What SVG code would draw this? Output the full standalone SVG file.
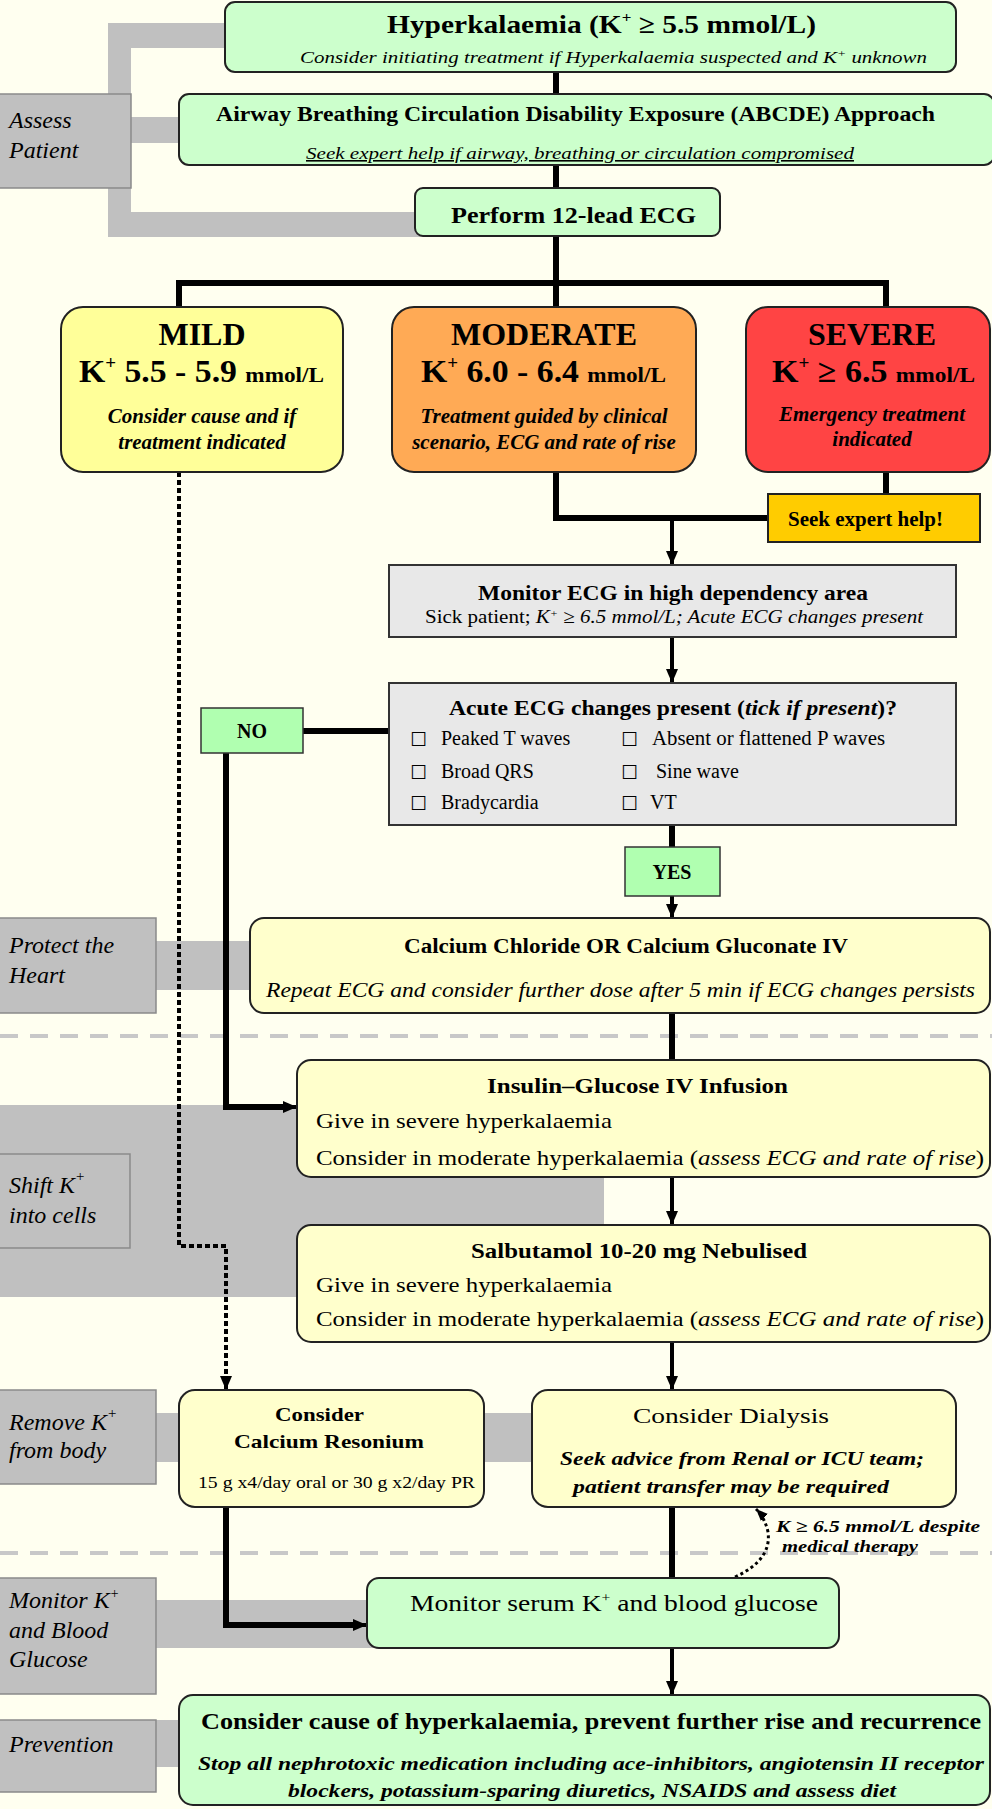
<svg xmlns="http://www.w3.org/2000/svg" width="992" height="1809" viewBox="0 0 992 1809">
<defs>
<style>
text{font-family:"Liberation Serif","Times New Roman",serif;fill:#000}
.b{font-weight:bold}
.i{font-style:italic}
.bi{font-weight:bold;font-style:italic}
.cb{font-family:"DejaVu Sans",sans-serif;font-size:19px}
.band{fill:#C0C0C0}
.lbl{fill:#C0C0C0;stroke:#8a8a8a;stroke-width:1.5}
.green{fill:#CCFFCC;stroke:#222;stroke-width:2}
.yel{fill:#FFFFCC;stroke:#222;stroke-width:2}
.grey{fill:#E8E8E8;stroke:#333;stroke-width:2}
.yn{fill:#B0FFB0;stroke:#333;stroke-width:1.5}
.ln{fill:none;stroke:#000;stroke-width:6}
.ar{fill:none;stroke:#000;stroke-width:4;marker-end:url(#ah)}
.dot{fill:none;stroke:#000;stroke-width:4;stroke-dasharray:5 3}
.sep{fill:none;stroke:#C8C8C8;stroke-width:4;stroke-dasharray:18 12}
.lt{font-style:italic;font-size:24px}
.big{font-size:32px;font-weight:bold}
</style>
<marker id="ah" viewBox="0 0 14 12" refX="14" refY="6" markerWidth="14" markerHeight="12" markerUnits="userSpaceOnUse" orient="auto"><path d="M0 0 L14 6 L0 12 z" fill="#000"/></marker>
<marker id="ahs" viewBox="0 0 12 10" refX="12" refY="5" markerWidth="12" markerHeight="10" markerUnits="userSpaceOnUse" orient="auto"><path d="M0 0 L12 5 L0 10 z" fill="#000"/></marker>
</defs>
<rect x="0" y="0" width="992" height="1809" fill="#FFFFF0"/>

<g id="bands">
<rect class="band" x="108" y="23" width="130" height="25"/>
<rect class="band" x="108" y="23" width="23" height="75"/>
<rect class="band" x="128" y="117" width="60" height="26"/>
<rect class="band" x="108" y="185" width="23" height="52"/>
<rect class="band" x="108" y="212" width="320" height="25"/>
<rect class="band" x="150" y="941" width="110" height="49"/>
<path class="band" d="M0 1105 H604 V1225 H310 V1297 H0 Z"/>
<rect class="band" x="150" y="1413" width="40" height="49"/>
<rect class="band" x="480" y="1413" width="60" height="49"/>
<rect class="band" x="150" y="1600" width="225" height="48"/>
<rect class="band" x="150" y="1720" width="40" height="47"/>
</g>

<g id="separators">
<path class="sep" d="M0 1036 H992"/>
<path class="sep" d="M0 1553 H992"/>
</g>

<g id="connectors">
<path class="ln" d="M556 72 V307"/>
<path class="ln" d="M179 307 V283 H886 V307" stroke-width="7"/>
<path class="ln" d="M556 472 V518 H770"/>
<path class="ln" d="M886 472 V494"/>
<path class="ar" d="M672 518 V565"/>
<path class="ar" d="M672 637 V683"/>
<path class="ln" d="M303 731 H389"/>
<path class="ln" d="M226 753 V1107 H284" stroke-width="5"/>
<path class="ar" d="M280 1107 H297"/>
<path class="ln" d="M672 825 V847" stroke-width="4"/>
<path class="ar" d="M672 896 V918"/>
<path class="ln" d="M672 1013 V1060" stroke-width="4"/>
<path class="ar" d="M672 1177 V1225"/>
<path class="ar" d="M672 1342 V1390"/>
<path class="dot" d="M179 472 V1246 H226 V1378"/>
<path class="ar" d="M226 1376 V1390"/>
<path class="ln" d="M226 1507 V1625 H355" stroke-width="5"/>
<path class="ar" d="M350 1625 H367"/>
<path class="ln" d="M672 1507 V1578" stroke-width="4"/>
<path class="ar" d="M672 1648 V1695"/>
<path d="M735 1577 Q 772 1560 768 1532 Q 765 1518 756 1509" fill="none" stroke="#000" stroke-width="3" stroke-dasharray="3 3" marker-end="url(#ahs)"/>
</g>

<g id="labels">
<rect class="lbl" x="-2" y="94" width="133" height="94"/>
<text class="lt" x="9" y="128">Assess</text>
<text class="lt" x="9" y="158">Patient</text>
<rect class="lbl" x="-2" y="918" width="158" height="95"/>
<text class="lt" x="9" y="953">Protect the</text>
<text class="lt" x="9" y="983">Heart</text>
<rect class="lbl" x="-2" y="1154" width="132" height="94"/>
<text class="lt" x="9" y="1193">Shift K<tspan dy="-12" font-size="15">+</tspan></text>
<text class="lt" x="9" y="1223">into cells</text>
<rect class="lbl" x="-2" y="1390" width="158" height="94"/>
<text class="lt" x="9" y="1430">Remove K<tspan dy="-12" font-size="15">+</tspan></text>
<text class="lt" x="9" y="1458">from body</text>
<rect class="lbl" x="-2" y="1578" width="158" height="116"/>
<text class="lt" x="9" y="1608">Monitor K<tspan dy="-10" font-size="14">+</tspan></text>
<text class="lt" x="9" y="1638">and Blood</text>
<text class="lt" x="9" y="1667">Glucose</text>
<rect class="lbl" x="-2" y="1720" width="158" height="72"/>
<text class="lt" x="9" y="1752">Prevention</text>
</g>

<g id="n-top">
<rect class="green" x="225" y="2" width="731" height="70" rx="10"/>
<text class="b" x="387" y="33" font-size="26" textLength="429" lengthAdjust="spacingAndGlyphs">Hyperkalaemia  (K<tspan dy="-11" font-size="15">+</tspan><tspan dy="11"> ≥ 5.5 mmol/L)</tspan></text>
<text class="i" x="300" y="63" font-size="17" textLength="627" lengthAdjust="spacingAndGlyphs">Consider initiating treatment if Hyperkalaemia suspected and K<tspan dy="-6" font-size="11">+</tspan><tspan dy="6"> unknown</tspan></text>
</g>

<g id="n-abcde">
<rect class="green" x="179" y="94" width="815" height="71" rx="10"/>
<text class="b" x="216" y="121" font-size="20" textLength="719" lengthAdjust="spacingAndGlyphs">Airway Breathing Circulation Disability Exposure (ABCDE) Approach</text>
<text class="i" x="306" y="159" font-size="16" textLength="548" lengthAdjust="spacingAndGlyphs" text-decoration="underline">Seek expert help if airway, breathing or circulation compromised</text>
</g>

<g id="n-ecg">
<rect class="green" x="415" y="188" width="305" height="48" rx="8"/>
<text class="b" x="451" y="223" font-size="24" textLength="245" lengthAdjust="spacingAndGlyphs">Perform 12-lead ECG</text>
</g>

<g id="n-mild">
<rect x="61" y="307" width="282" height="165" rx="22" fill="#FFFF99" stroke="#222" stroke-width="2"/>
<text class="big" x="202" y="345" text-anchor="middle">MILD</text>
<text class="big" x="79" y="382" textLength="245" lengthAdjust="spacingAndGlyphs">K<tspan dy="-13" font-size="18">+</tspan><tspan dy="13"> 5.5 - 5.9 </tspan><tspan font-size="22">mmol/L</tspan></text>
<text class="bi" x="202" y="423" font-size="21" text-anchor="middle">Consider cause and if</text>
<text class="bi" x="202" y="449" font-size="21" text-anchor="middle">treatment indicated</text>
</g>

<g id="n-moderate">
<rect x="392" y="307" width="304" height="165" rx="22" fill="#FFAA55" stroke="#222" stroke-width="2"/>
<text class="big" x="544" y="345" text-anchor="middle">MODERATE</text>
<text class="big" x="421" y="382" textLength="245" lengthAdjust="spacingAndGlyphs">K<tspan dy="-13" font-size="18">+</tspan><tspan dy="13"> 6.0 - 6.4 </tspan><tspan font-size="22">mmol/L</tspan></text>
<text class="bi" x="544" y="423" font-size="21" text-anchor="middle">Treatment guided by clinical</text>
<text class="bi" x="544" y="449" font-size="21" text-anchor="middle">scenario, ECG and rate of rise</text>
</g>

<g id="n-severe">
<rect x="746" y="307" width="244" height="165" rx="22" fill="#FF4444" stroke="#222" stroke-width="2"/>
<text class="big" x="872" y="345" text-anchor="middle">SEVERE</text>
<text class="big" x="772" y="382" textLength="203" lengthAdjust="spacingAndGlyphs">K<tspan dy="-13" font-size="18">+</tspan><tspan dy="13"> ≥ 6.5 </tspan><tspan font-size="22">mmol/L</tspan></text>
<text class="bi" x="872" y="421" font-size="21" text-anchor="middle">Emergency treatment</text>
<text class="bi" x="872" y="446" font-size="21" text-anchor="middle">indicated</text>
</g>

<g id="n-seek">
<rect x="768" y="494" width="212" height="48" fill="#FFCC00" stroke="#222" stroke-width="2"/>
<text class="b" x="788" y="526" font-size="20" textLength="155" lengthAdjust="spacingAndGlyphs">Seek expert help!</text>
</g>

<g id="n-monitor-ecg">
<rect class="grey" x="389" y="565" width="567" height="72"/>
<text class="b" x="478" y="600" font-size="21" textLength="390" lengthAdjust="spacingAndGlyphs">Monitor ECG in high dependency area</text>
<text x="425" y="623" font-size="19" textLength="498" lengthAdjust="spacingAndGlyphs">Sick patient; <tspan class="i">K<tspan dy="-6" font-size="11">+</tspan><tspan dy="6"> ≥ 6.5 mmol/L; Acute ECG changes present</tspan></tspan></text>
</g>

<g id="n-acute">
<rect class="grey" x="389" y="683" width="567" height="142"/>
<text class="b" x="449" y="715" font-size="20" textLength="448" lengthAdjust="spacingAndGlyphs">Acute ECG changes present (<tspan class="bi">tick if present</tspan>)?</text>
<text class="cb" x="410" y="746">☐</text>
<text x="441" y="745" font-size="20">Peaked T waves</text>
<text class="cb" x="410" y="779">☐</text>
<text x="441" y="778" font-size="20">Broad QRS</text>
<text class="cb" x="410" y="810">☐</text>
<text x="441" y="809" font-size="20">Bradycardia</text>
<text class="cb" x="621" y="746">☐</text>
<text x="652" y="745" font-size="20" textLength="233" lengthAdjust="spacingAndGlyphs">Absent or flattened P waves</text>
<text class="cb" x="621" y="779">☐</text>
<text x="656" y="778" font-size="20">Sine wave</text>
<text class="cb" x="621" y="810">☐</text>
<text x="650" y="809" font-size="20">VT</text>
</g>

<g id="n-no">
<rect class="yn" x="201" y="708" width="102" height="45"/>
<text class="b" x="252" y="738" font-size="20" text-anchor="middle">NO</text>
</g>

<g id="n-yes">
<rect class="yn" x="625" y="847" width="95" height="49"/>
<text class="b" x="672" y="879" font-size="20" text-anchor="middle">YES</text>
</g>

<g id="n-calcium">
<rect class="yel" x="250" y="918" width="740" height="95" rx="14"/>
<text class="b" x="404" y="953" font-size="20" textLength="444" lengthAdjust="spacingAndGlyphs">Calcium Chloride OR Calcium Gluconate IV</text>
<text class="i" x="266" y="997" font-size="20" textLength="709" lengthAdjust="spacingAndGlyphs">Repeat ECG and consider further dose after 5 min if ECG changes persists</text>
</g>

<g id="n-insulin">
<rect class="yel" x="297" y="1060" width="693" height="117" rx="14"/>
<text x="487" y="1093" font-size="22" font-weight="bold" textLength="301" lengthAdjust="spacingAndGlyphs">Insulin–Glucose IV Infusion</text>
<text x="316" y="1128" font-size="22" textLength="296" lengthAdjust="spacingAndGlyphs">Give in severe hyperkalaemia</text>
<text x="316" y="1165" font-size="22" textLength="668" lengthAdjust="spacingAndGlyphs">Consider in moderate hyperkalaemia (<tspan class="i">assess ECG and rate of rise</tspan>)</text>
</g>

<g id="n-salbutamol">
<rect class="yel" x="297" y="1225" width="693" height="117" rx="14"/>
<text x="471" y="1258" font-size="22" font-weight="bold" textLength="336" lengthAdjust="spacingAndGlyphs">Salbutamol 10-20 mg Nebulised</text>
<text x="316" y="1292" font-size="22" textLength="296" lengthAdjust="spacingAndGlyphs">Give in severe hyperkalaemia</text>
<text x="316" y="1326" font-size="22" textLength="668" lengthAdjust="spacingAndGlyphs">Consider in moderate hyperkalaemia (<tspan class="i">assess ECG and rate of rise</tspan>)</text>
</g>

<g id="n-resonium">
<rect class="yel" x="179" y="1390" width="305" height="117" rx="16"/>
<text class="b" x="275" y="1421" font-size="19" textLength="89" lengthAdjust="spacingAndGlyphs">Consider</text>
<text class="b" x="234" y="1448" font-size="19" textLength="190" lengthAdjust="spacingAndGlyphs">Calcium Resonium</text>
<text x="198" y="1488" font-size="17" textLength="277" lengthAdjust="spacingAndGlyphs">15 g x4/day oral or 30 g x2/day PR</text>
</g>

<g id="n-dialysis">
<rect class="yel" x="532" y="1390" width="424" height="117" rx="16"/>
<text x="633" y="1423" font-size="22" textLength="196" lengthAdjust="spacingAndGlyphs">Consider Dialysis</text>
<text class="bi" x="560" y="1465" font-size="19" textLength="364" lengthAdjust="spacingAndGlyphs">Seek advice from Renal or ICU team;</text>
<text class="bi" x="573" y="1493" font-size="19" textLength="316" lengthAdjust="spacingAndGlyphs">patient transfer may be required</text>
</g>

<g id="dialysis-note">
<text class="bi" x="776" y="1532" font-size="17" textLength="204" lengthAdjust="spacingAndGlyphs">K ≥ 6.5 mmol/L  despite</text>
<text class="bi" x="782" y="1552" font-size="17" textLength="136" lengthAdjust="spacingAndGlyphs">medical therapy</text>
</g>

<g id="n-monitor">
<rect class="green" x="367" y="1578" width="472" height="70" rx="12"/>
<text x="410" y="1611" font-size="23" textLength="408" lengthAdjust="spacingAndGlyphs">Monitor serum K<tspan dy="-9" font-size="13">+</tspan><tspan dy="9"> and blood glucose</tspan></text>
</g>

<g id="n-prevention">
<rect class="green" x="179" y="1695" width="811" height="110" rx="14"/>
<text x="201" y="1729" font-size="23" font-weight="bold" textLength="780" lengthAdjust="spacingAndGlyphs">Consider cause of hyperkalaemia, prevent further rise and recurrence</text>
<text class="bi" x="198" y="1770" font-size="19" textLength="786" lengthAdjust="spacingAndGlyphs">Stop all nephrotoxic medication including ace-inhibitors, angiotensin II receptor</text>
<text class="bi" x="288" y="1797" font-size="19" textLength="608" lengthAdjust="spacingAndGlyphs">blockers, potassium-sparing diuretics, NSAIDS and assess diet</text>
</g>
</svg>
